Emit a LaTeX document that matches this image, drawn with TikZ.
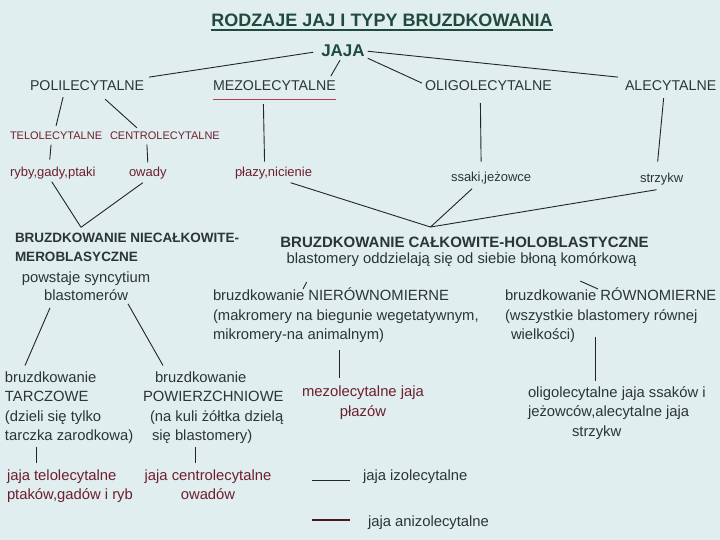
\documentclass[tikz,border=0pt]{standalone}
\usepackage{fontspec}
\setmainfont{Liberation Sans}
\usepackage{xcolor}
\definecolor{eggBackground}{HTML}{E0EEF0}
\definecolor{eggText}{HTML}{2A3636}
\definecolor{eggMaroon}{HTML}{6E1F2C}
\definecolor{eggTitle}{HTML}{1F4A3C}
\definecolor{eggUnderline}{HTML}{B43C4A}
\definecolor{eggLine}{HTML}{1E2626}
\definecolor{eggThick}{HTML}{4A1820}

\begin{document}
\begin{tikzpicture}[
  every node/.style={inner sep=0pt, outer sep=0pt, text=eggText},
  titletext/.style={font=\fontsize{18}{22}\selectfont\bfseries, text=eggTitle},
  heads/.style={font=\fontsize{14.2}{18}\selectfont},
  smallred/.style={font=\fontsize{11}{14}\selectfont, text=eggMaroon},
  animals/.style={font=\fontsize{13}{17}\selectfont},
  bodytext/.style={font=\fontsize{14.8}{19.5}\selectfont, align=left},
  redbody/.style={bodytext, text=eggMaroon},
  boldhead/.style={font=\fontsize{13.5}{19}\selectfont\bfseries, align=left},
  egglink/.style={draw=eggLine, line width=0.9pt}
]
  \fill[eggBackground] (0pt,0pt) rectangle (720pt,-540pt);

  \node[titletext, anchor=base] (title) at (382pt,-26.5pt) {RODZAJE JAJ I TYPY BRUZDKOWANIA};
  \draw[eggTitle, line width=2pt] ([yshift=-4pt]title.base west) -- ([yshift=-4pt]title.base east);
  \node[font=\fontsize{17}{20}\selectfont\bfseries, text=eggTitle, anchor=base] (jaja) at (343pt,-57pt) {JAJA};

  \node[heads, anchor=base west] (poli) at (30pt,-91pt) {POLILECYTALNE};
  \node[heads, anchor=base west] (mezo) at (213pt,-91pt) {MEZOLECYTALNE};
  \node[heads, anchor=base west] (oligo) at (425pt,-91pt) {OLIGOLECYTALNE};
  \node[heads, anchor=base west] (ale) at (625pt,-91pt) {ALECYTALNE};
  \draw[egglink] ([xshift=-8pt,yshift=-1pt]jaja.west) -- ([xshift=5pt,yshift=9pt]poli.east);
  \draw[egglink] ([xshift=-3pt,yshift=-3pt]jaja.south) -- ([xshift=-5pt,yshift=5pt]mezo.north east);
  \draw[egglink] ([xshift=3pt,yshift=-7pt]jaja.east) -- ([xshift=-3pt,yshift=3pt]oligo.west);
  \draw[egglink] ([xshift=3pt]jaja.east) -- ([xshift=-7pt,yshift=9pt]ale.west);
  \draw[eggUnderline, line width=1.2pt] ([yshift=-8pt]mezo.south west) -- ([yshift=-8pt]mezo.south east);

  \node[smallred, anchor=base west] (telo) at (10pt,-139.5pt) {TELOLECYTALNE};
  \node[smallred, anchor=base west] (centro) at (110pt,-139.5pt) {CENTROLECYTALNE};
  \draw[egglink] ([xshift=-24pt,yshift=-6pt]poli.south) -- ([yshift=6pt]telo.north);
  \draw[egglink] ([xshift=18pt,yshift=-8pt]poli.south) -- ([xshift=-28pt,yshift=4pt]centro.north);

  \node[animals, anchor=base west, text=eggMaroon] (ryby) at (10pt,-177pt) {ryby,gady,ptaki};
  \node[animals, anchor=base west, text=eggMaroon] (owady) at (129pt,-177pt) {owady};
  \node[animals, anchor=base west, text=eggMaroon] (plazy) at (235pt,-177pt) {płazy,nicienie};
  \node[animals, anchor=base west] (ssaki) at (451pt,-182pt) {ssaki,jeżowce};
  \node[animals, anchor=base west] (strzykw) at (640pt,-183pt) {strzykw};
  \draw[egglink] ([xshift=-5pt,yshift=-5pt]telo.south) -- ([xshift=-3pt,yshift=8pt]ryby.north);
  \draw[egglink] ([xshift=-18pt,yshift=-5pt]centro.south) -- ([yshift=5pt]owady.north);
  \draw[egglink] ([xshift=-11pt,yshift=-13pt]mezo.south) -- ([xshift=-9pt,yshift=6pt]plazy.north);
  \draw[egglink] ([xshift=-8pt,yshift=-12pt]oligo.south) -- ([xshift=-10pt,yshift=11pt]ssaki.north);
  \draw[egglink] ([xshift=-7pt,yshift=-7pt]ale.south) -- ([xshift=-4pt,yshift=12pt]strzykw.north);

  \node[boldhead, anchor=north west] (mero) at (15pt,-233.3pt) {BRUZDKOWANIE NIECAŁKOWITE-\\MEROBLASYCZNE};
  \node[bodytext, align=center, font=\fontsize{14.8}{18.5}\selectfont, anchor=north] (meroDesc) at (86pt,-271.5pt) {powstaje syncytium\\blastomerów};
  \draw[egglink] ([xshift=-1pt,yshift=-2pt]ryby.south) -- ([xshift=66pt,yshift=6pt]mero.north west);
  \draw[egglink] ([xshift=-5pt,yshift=-3pt]owady.south) -- ([xshift=66pt,yshift=6pt]mero.north west);

  \node[font=\fontsize{15}{18}\selectfont\bfseries, anchor=base] (holo) at (464.5pt,-247.5pt) {BRUZDKOWANIE CAŁKOWITE-HOLOBLASTYCZNE};
  \node[bodytext, anchor=base] (holoDesc) at (461.5pt,-263.5pt) {blastomery oddzielają się od siebie błoną komórkową};
  \draw[egglink] ([xshift=17pt,yshift=-3pt]plazy.south) -- ([xshift=-34pt,yshift=10pt]holo.north);
  \draw[egglink] ([xshift=-19pt,yshift=-4pt]ssaki.south) -- ([xshift=-34pt,yshift=10pt]holo.north);
  \draw[egglink] ([xshift=-5pt,yshift=-4pt]strzykw.south) -- ([xshift=-34pt,yshift=10pt]holo.north);

  \node[bodytext, anchor=north west] (nier) at (213pt,-288pt) {bruzdkowanie NIERÓWNOMIERNE\\(makromery na biegunie wegetatywnym,\\mikromery-na animalnym)};
  \node[bodytext, anchor=north west] (row) at (505pt,-288pt) {bruzdkowanie RÓWNOMIERNE\\(wszystkie blastomery równej\\\hspace*{6pt}wielkości)};
  \draw[egglink] ([xshift=20pt,yshift=-15.5pt]holoDesc.south west) -- ([xshift=90pt,yshift=-1pt]nier.north west);
  \draw[egglink] ([xshift=-56pt,yshift=-14.5pt]holoDesc.south east) -- ([xshift=93pt,yshift=-1pt]row.north west);

  \node[bodytext, anchor=north west] (tarcz) at (5pt,-371.5pt) {bruzdkowanie\\TARCZOWE\\(dzieli się tylko\\tarczka zarodkowa)};
  \node[bodytext, anchor=north west] (powierz) at (143pt,-371.5pt) {\hspace*{12pt}bruzdkowanie\\POWIERZCHNIOWE\\\hspace*{7pt}(na kuli żółtka dzielą\\\hspace*{9pt}się blastomery)};
  \draw[egglink] ([xshift=-36pt,yshift=-7pt]meroDesc.south) -- ([xshift=20pt,yshift=6pt]tarcz.north west);
  \draw[egglink] ([xshift=42pt,yshift=-3pt]meroDesc.south) -- ([xshift=20pt,yshift=6pt]powierz.north west);

  \node[redbody, align=center, anchor=north] (mezoJaja) at (363pt,-386pt) {mezolecytalne jaja\\płazów};
  \node[bodytext, anchor=north west] (oligoJaja) at (528pt,-386.5pt) {oligolecytalne jaja ssaków i\\jeżowców,alecytalne jaja\\\hspace*{44pt}strzykw};
  \draw[egglink] ([xshift=126pt,yshift=-7pt]nier.south west) -- ([xshift=-24pt,yshift=8pt]mezoJaja.north);
  \draw[egglink] ([xshift=90pt,yshift=6pt]row.south west) -- ([xshift=67pt,yshift=6pt]oligoJaja.north west);

  \node[redbody, anchor=north west] (teloJaja) at (7pt,-469.5pt) {jaja telolecytalne\\ptaków,gadów i ryb};
  \node[redbody, align=center, anchor=north] (centroJaja) at (208pt,-469.5pt) {jaja centrolecytalne\\owadów};
  \draw[egglink] ([xshift=31pt,yshift=-3.5pt]tarcz.south west) -- ([xshift=29pt,yshift=6.5pt]teloJaja.north west);
  \draw[egglink] ([xshift=52pt,yshift=-3.5pt]powierz.south west) -- ([xshift=-13pt,yshift=6.5pt]centroJaja.north);

  \node[bodytext, anchor=base west] (izo) at (363pt,-480.5pt) {jaja izolecytalne};
  \node[bodytext, anchor=base west] (aniz) at (368pt,-526pt) {jaja anizolecytalne};
  \draw[eggLine, line width=0.8pt] ([xshift=-51pt]izo.base west) -- ([xshift=-13pt]izo.base west);
  \draw[eggThick, line width=2.2pt] ([xshift=-56pt,yshift=6pt]aniz.base west) -- ([xshift=-18pt,yshift=6pt]aniz.base west);
\end{tikzpicture}
\end{document}
